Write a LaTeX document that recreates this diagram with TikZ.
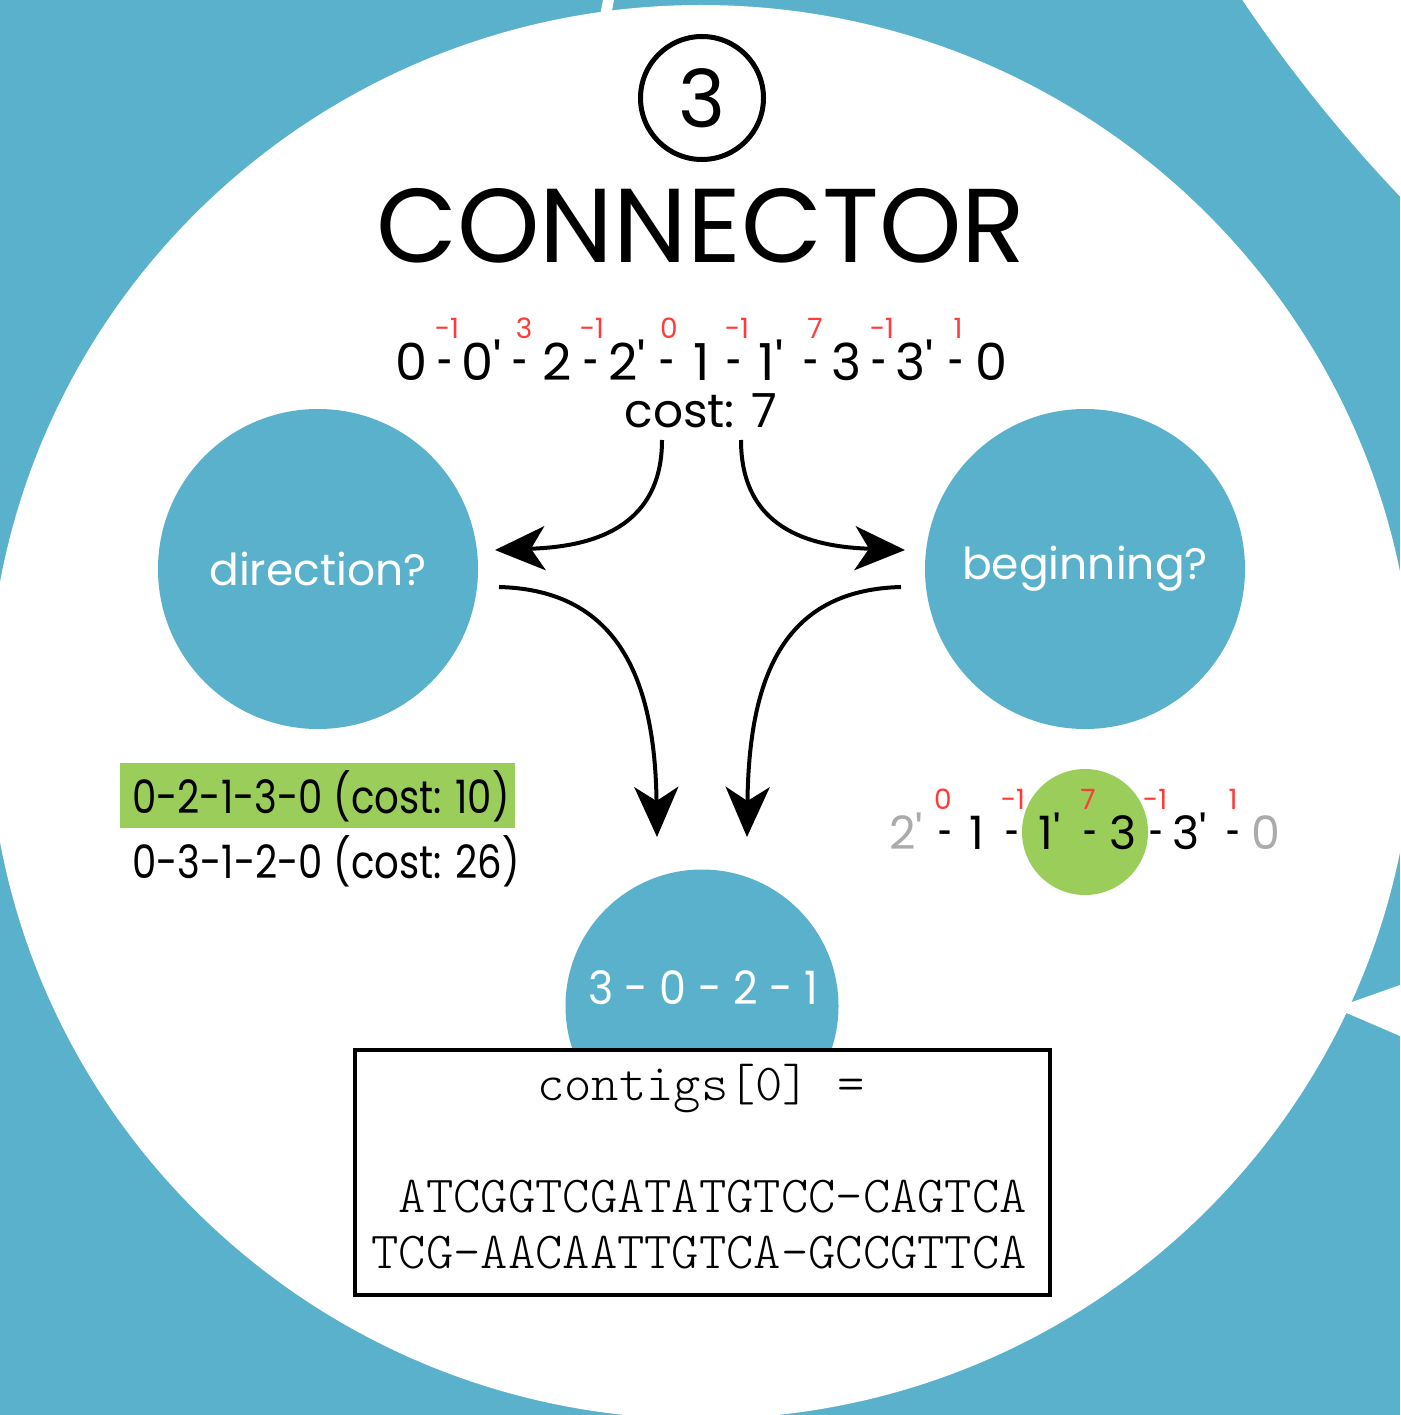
\documentclass[tikz,border=0pt]{standalone}
\usepackage{fontspec}
\usepackage{graphicx}
\setmainfont{Poppins}
\setsansfont{Poppins}
\newfontfamily\monolight{lmmonolt10-regular}[Extension=.otf]
\usetikzlibrary{arrows.meta}
\definecolor{ringblue}{HTML}{5AB1CC}
\definecolor{okgreen}{HTML}{9BCD5A}
\definecolor{redlbl}{HTML}{FF3B3B}
\definecolor{grayt}{HTML}{ABABAB}
\newcommand\fs[1]{\fontsize{#1}{#1}\selectfont}
\newcommand\primemark{\textquotesingle}
\newcommand\shortdash{\scalebox{0.55}[1]{-}}
\newcommand\narrowtext[2][0.84]{\scalebox{#1}[1]{#2}}
\tikzset{
  seqtok/.style={anchor=base, inner sep=0, font=\fs{51}},
  redlab/.style={anchor=base, inner sep=0, text=redlbl, font=\fs{28}},
  rseqtok/.style={anchor=base, inner sep=0, font=\fs{46}},
  bluedisc/.style={circle, fill=ringblue, inner sep=0, text=white, font=\fs{44}},
  arr/.style={line width=4pt, -{Stealth[length=50pt,width=44pt,inset=14pt]}},
  pathtxt/.style={anchor=base west, inner sep=0, font=\fs{46}},
  mono/.style={anchor=base east, inner sep=0, font=\monolight\fs{52}}
}
\begin{document}
\begin{tikzpicture}[x=1pt,y=-1pt]
\useasboundingbox (0,0) rectangle (1400,1415);
% background ring and circles
\begin{scope}
  \clip (0,0) rectangle (1400,1415);
  \fill[ringblue] (0,0) rectangle (1400,1415);
  \fill[white] (2489,-838) circle[radius=1502];
  \fill[white] (603,0) -- (614,0) -- (611,16) -- (600,16) -- cycle;
  \fill[white] (1335,1008) -- (1400,985) -- (1400,1036) -- cycle;
  \fill[white] (701,712) ellipse[x radius=713, y radius=707];
\end{scope}
% title
\node[circle, draw, line width=5pt, minimum size=123pt, inner sep=0, font=\fs{80}] (num) at (702,98) {3};
\node[anchor=base, inner sep=0, font=\fs{105}] (title) at (701,262) {CONNECTOR};
% top sequence
\foreach \x/\t [count=\i] in {412/0,445/\shortdash,482/0\primemark,520/\shortdash,557/2,591/\shortdash,627/2\primemark,667/\shortdash,702/1,734/\shortdash,771/1\primemark,811/\shortdash,847/3,879/\shortdash,915/3\primemark,956/\shortdash,991/0}
  \node[seqtok] (t\i) at (\x,380) {\t};
\foreach \x/\l [count=\i] in {447/-1,524/3,592/-1,669/0,737/-1,815/7,882/-1,958/1}
  \node[redlab] (ra\i) at (\x,338) {\l};
\node[anchor=base, inner sep=0, font=\fs{47}] (cost) at (701,427) {cost: 7};
% question discs
\node[bluedisc, minimum size=320pt] (dir) at (318,569) {direction?};
\node[bluedisc, minimum size=320pt] (beg) at (1085,569) {beginning?};
% arrows
\coordinate (a1s) at (662,440);
\coordinate (a1e) at (495,550);
\coordinate (a2s) at (741,440);
\coordinate (a2e) at (905,550);
\coordinate (a3s) at (499,587);
\coordinate (a3e) at (657,837);
\coordinate (a4s) at (901,587);
\coordinate (a4e) at (747,837);
\draw[arr] (a1s) .. controls +(0,95) and +(85,-3) .. (a1e);
\draw[arr] (a2s) .. controls +(0,95) and +(-85,-3) .. (a2e);
\draw[arr] (a3s) .. controls +(121,3) and +(-2,-155) .. (a3e);
\draw[arr] (a4s) .. controls +(-121,3) and +(2,-155) .. (a4e);
% left: candidate paths
\node[fill=okgreen, minimum width=395pt, minimum height=65pt, inner sep=0] (best) at (317.5,795.5) {};
\node[pathtxt] (bestt) at (132,813) {\narrowtext{0-2-1-3-0 (cost: 10)}};
\node[pathtxt] (worst) at (132,878) {\narrowtext{0-3-1-2-0 (cost: 26)}};
% right: beginning sequence
\node[circle, fill=okgreen, minimum size=126pt, inner sep=0] (pick) at (1085,832) {};
\foreach \x/\t/\c [count=\i] in {906/2\primemark/grayt,945/\shortdash/black,977/1/black,1012/\shortdash/black,1050/1\primemark/black,1090/\shortdash/black,1123/3/black,1156/\shortdash/black,1190/3\primemark/black,1233/\shortdash/black,1266/0/grayt}
  \node[rseqtok, text=\c] (u\i) at (\x,849) {\t};
\foreach \x/\l [count=\i] in {943/0,1013/-1,1088/7,1155/-1,1233/1}
  \node[redlab] (rb\i) at (\x,809) {\l};
% result disc and contig box
\node[bluedisc, minimum size=273pt] (res) at (702,1006) {};
\node[anchor=base, inner sep=0, text=white, font=\fs{46}] (rest) at (703,1004) {\narrowtext[0.93]{3 - 0 - 2 - 1}};
\node[draw, line width=3.5pt, fill=white, minimum width=695pt, minimum height=245pt, inner sep=0] (box) at (702.5,1172.5) {};
\node[mono, anchor=base] (c0) at (701,1100) {contigs[0] =};
\node[mono] (c1) at (1027,1212) {ATCGGTCGATATGTCC-CAGTCA};
\node[mono] (c2) at (1027,1268) {TCG-AACAATTGTCA-GCCGTTCA};
\end{tikzpicture}
\end{document}
